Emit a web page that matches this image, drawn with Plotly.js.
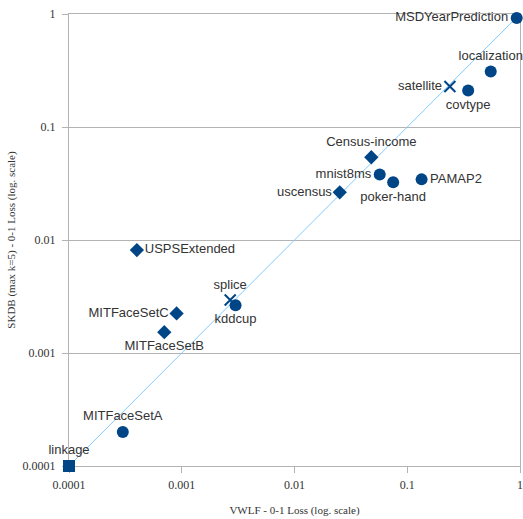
<!DOCTYPE html>
<html>
<head>
<meta charset="utf-8">
<script src="https://cdn.plot.ly/plotly-3.0.1.min.js"></script>
<style>html,body{margin:0;padding:0;background:#fff;}#chart{width:523px;height:519px;}</style>
</head>
<body>
<div id="chart"></div>
<script>
// Data (VWLF 0-1 loss vs SKDB 0-1 loss)
const circleNames = ["MSDYearPrediction", "localization", "covtype", "mnist8ms", "poker-hand", "PAMAP2", "kddcup", "MITFaceSetA"];
const circleX = [0.935, 0.55, 0.347, 0.057, 0.075, 0.134, 0.0030, 0.00030];
const circleY = [0.92, 0.31, 0.21, 0.038, 0.0324, 0.0344, 0.00265, 0.00020];

const diamondNames = ["Census-income", "uscensus", "USPSExtended", "MITFaceSetC", "MITFaceSetB"];
const diamondX = [0.048, 0.0252, 0.00040, 0.00090, 0.00070];
const diamondY = [0.054, 0.0264, 0.00815, 0.00224, 0.00153];

const crossNames = ["satellite", "splice"];
const crossX = [0.239, 0.00269];
const crossY = [0.228, 0.00294];

const squareNames = ["linkage"];
const squareX = [0.0001];
const squareY = [0.0001];

const diagonalRange = [0.0001, 1];
const tickValues = [0.0001, 0.001, 0.01, 0.1, 1];
const tickLabels = ["0.0001", "0.001", "0.01", "0.1", "1"];

// Label placement (style)
const labelPos = {
  "MSDYearPrediction": "middle left", "localization": "top center", "covtype": "bottom center",
  "mnist8ms": "middle left", "poker-hand": "bottom center", "PAMAP2": "middle right",
  "kddcup": "bottom center", "MITFaceSetA": "top center", "Census-income": "top center",
  "uscensus": "middle left", "USPSExtended": "middle right", "MITFaceSetC": "middle left",
  "MITFaceSetB": "bottom center", "satellite": "middle left", "splice": "top center",
  "linkage": "top center"
};

const markColor = "#004586";
const labelFont = {family: "Liberation Sans, Arial, sans-serif", size: 13, color: "#333333"};

function pointTrace(names, xs, ys, symbol, size) {
  const isX = symbol === "x-thin";
  return {
    type: "scatter", mode: "markers+text",
    x: xs, y: ys, text: names,
    textposition: names.map(n => labelPos[n]),
    textfont: labelFont,
    marker: {symbol: symbol, size: size, color: markColor, line: {width: isX ? 2 : 0, color: markColor}},
    cliponaxis: false, hoverinfo: "text", showlegend: false
  };
}

const traces = [
  {type: "scatter", mode: "lines", x: diagonalRange, y: diagonalRange,
   line: {color: "#83caff", width: 1}, hoverinfo: "skip", showlegend: false},
  pointTrace(circleNames, circleX, circleY, "circle", 12),
  pointTrace(diamondNames, diamondX, diamondY, "diamond", 11),
  pointTrace(crossNames, crossX, crossY, "x-thin", 11),
  pointTrace(squareNames, squareX, squareY, "square", 12)
];

const axisCommon = {
  type: "log", range: [-4, 0],
  tickvals: tickValues, ticktext: tickLabels,
  ticks: "outside", ticklen: 6, tickcolor: "#b3b3b3", tickwidth: 1,
  showline: true, linecolor: "#b3b3b3", linewidth: 1, mirror: true,
  tickfont: {family: "Liberation Serif, Times New Roman, serif", size: 12, color: "#333333"},
  zeroline: false, layer: "below traces"
};

const layout = {
  width: 523, height: 519,
  margin: {l: 69, r: 3, t: 14, b: 53},
  paper_bgcolor: "#ffffff", plot_bgcolor: "#ffffff",
  xaxis: Object.assign({}, axisCommon, {
    showgrid: false, ticklabelstandoff: 2,
    title: {text: "VWLF - 0-1 Loss (log. scale)", font: {family: "Liberation Serif, Times New Roman, serif", size: 11, color: "#333333"}, standoff: 14}
  }),
  yaxis: Object.assign({}, axisCommon, {
    showgrid: true, gridcolor: "#b3b3b3", gridwidth: 1, ticklabelstandoff: 4,
    title: {text: "SKDB (max k=5) - 0-1 Loss (log. scale)", font: {family: "Liberation Serif, Times New Roman, serif", size: 11, color: "#333333"}, standoff: 4}
  }),
  showlegend: false
};

Plotly.newPlot("chart", traces, layout, {displayModeBar: false, staticPlot: true});
</script>
</body>
</html>
